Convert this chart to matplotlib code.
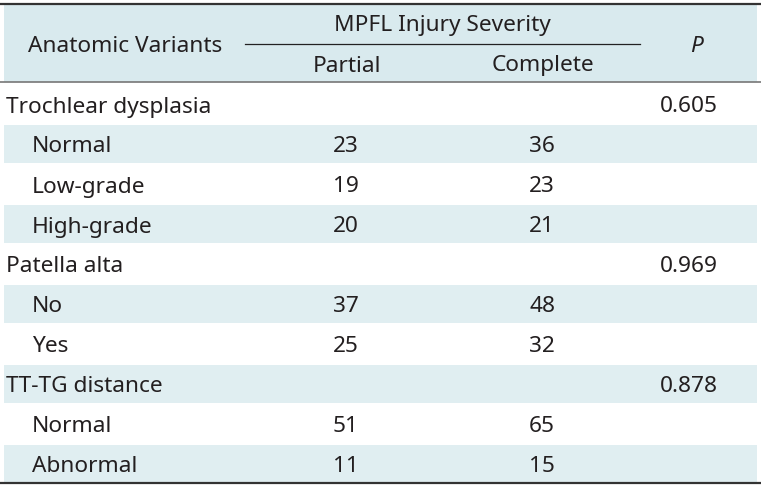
import matplotlib
matplotlib.use("Agg")
import matplotlib.pyplot as plt
from matplotlib.patches import Rectangle

# ---- data ----
row_labels = ["Trochlear dysplasia", "Normal", "Low-grade", "High-grade",
              "Patella alta", "No", "Yes",
              "TT-TG distance", "Normal", "Abnormal"]
row_is_group = [True, False, False, False, True, False, False, True, False, False]
partial = ["", "23", "19", "20", "", "37", "25", "", "51", "11"]
complete = ["", "36", "23", "21", "", "48", "32", "", "65", "15"]
p_values = ["0.605", "", "", "", "0.969", "", "", "0.878", "", ""]
header_main = "Anatomic Variants"
header_group = "MPFL Injury Severity"
header_sub = ["Partial", "Complete"]
header_p = "P"

W, H = 761, 489
fig = plt.figure(figsize=(W / 100, H / 100), dpi=100)
ax = fig.add_axes([0, 0, 1, 1])
ax.set_xlim(0, W)
ax.set_ylim(H, 0)
ax.axis("off")

FONT = "Noto Sans"
FS = 16.3
TXT = "#231f20"
SHADE = "#e0eef1"
HSHADE = "#d9eaee"
DY = 2  # baseline nudge

# header background
ax.add_patch(Rectangle((4, 5), W - 8, 78, facecolor=HSHADE, edgecolor="none"))
ax.plot([0, W], [4.5, 4.5], color="#333333", lw=1.6)
ax.plot([0, W], [83, 83], color="#777777", lw=1.2)

ax.text(125, 45 + DY, header_main, ha="center", va="center", fontsize=FS, family=FONT, color=TXT)
ax.text(442, 24 + DY, header_group, ha="center", va="center", fontsize=FS, family=FONT, color=TXT)
ax.plot([245, 640], [45, 45], color="#222222", lw=0.9)
ax.text(347, 64 + DY, header_sub[0], ha="center", va="center", fontsize=FS, family=FONT, color=TXT)
ax.text(543, 64 + DY, header_sub[1], ha="center", va="center", fontsize=FS, family=FONT, color=TXT)
ax.text(697, 45 + DY, header_p, ha="center", va="center", fontsize=FS, family=FONT,
        style="italic", color=TXT)

row_h = 40
y0 = 85
for i, lab in enumerate(row_labels):
    top = y0 + i * row_h
    cy = top + row_h / 2 + DY
    if i % 2 == 1:
        ax.add_patch(Rectangle((4, top + 1), W - 8, row_h - 2, facecolor=SHADE, edgecolor="none"))
    x = 6 if row_is_group[i] else 32
    ax.text(x, cy, lab, ha="left", va="center", fontsize=FS, family=FONT, color=TXT)
    ax.text(346, cy, partial[i], ha="center", va="center", fontsize=FS, family=FONT, color=TXT)
    ax.text(542, cy, complete[i], ha="center", va="center", fontsize=FS, family=FONT, color=TXT)
    ax.text(689, cy, p_values[i], ha="center", va="center", fontsize=FS, family=FONT, color=TXT)

ax.plot([0, W], [484, 484], color="#333333", lw=1.6)

fig.savefig("out.png", dpi=100)
